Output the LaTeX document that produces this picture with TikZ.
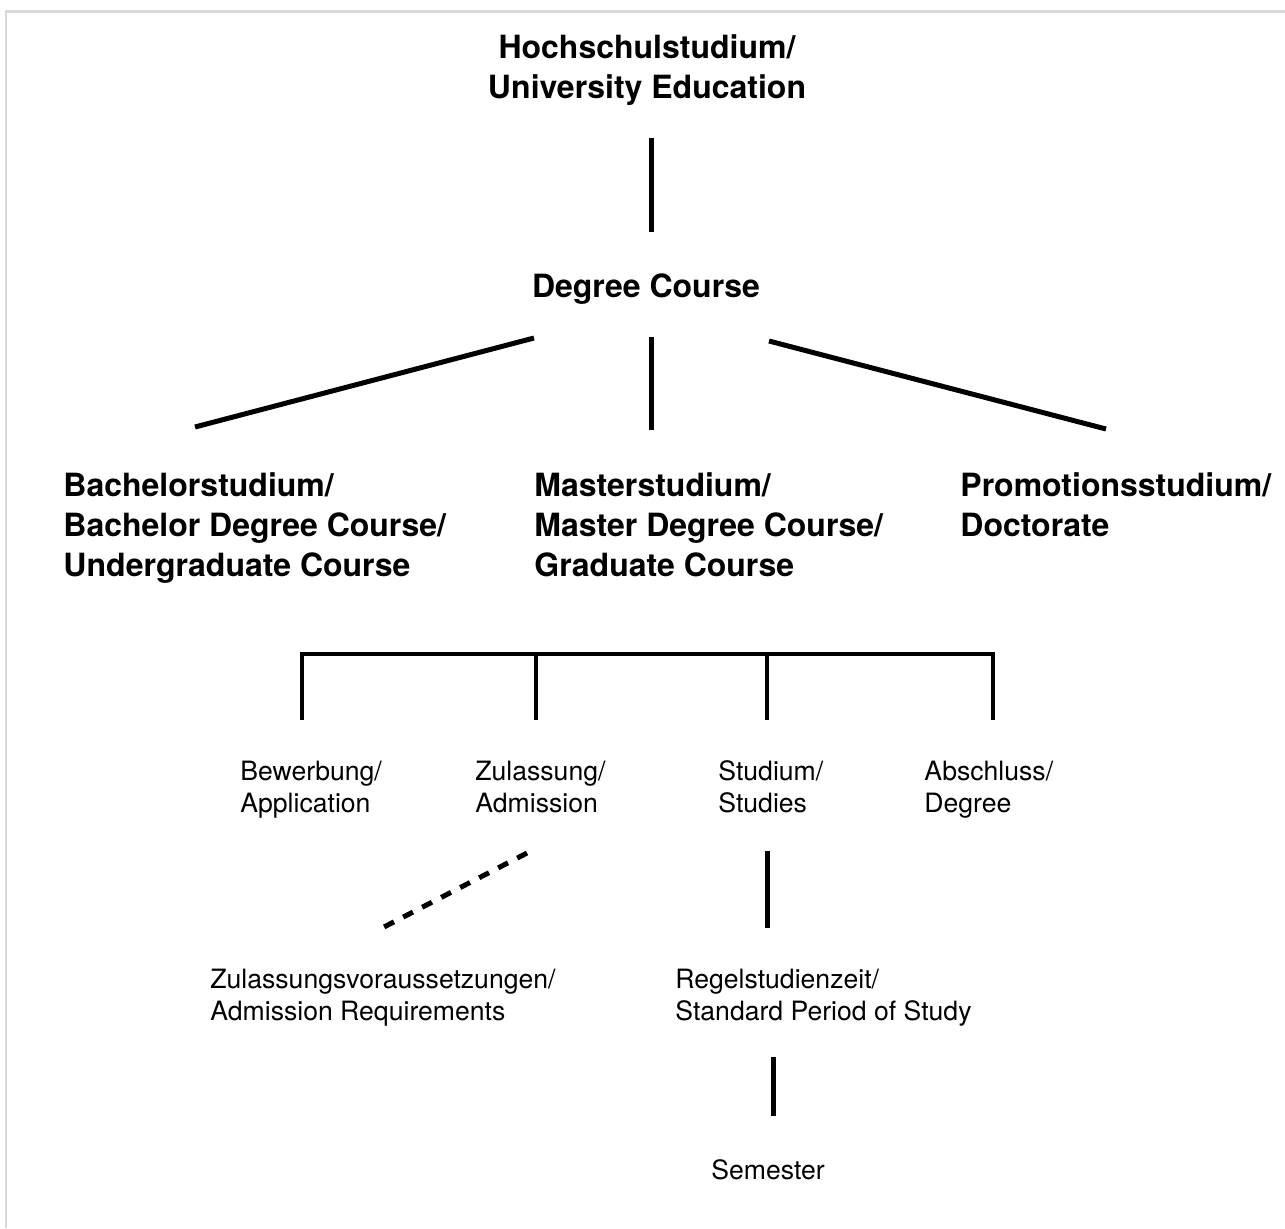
\documentclass[tikz,border=0pt]{standalone}
\usepackage{fontspec}
\setmainfont{TeX Gyre Heros}
\usetikzlibrary{calc}
\begin{document}
\begin{tikzpicture}[x=0.5pt,y=-0.5pt,
  head/.style={font=\fontsize{16}{20}\selectfont\bfseries, inner sep=0pt},
  leaf/.style={font=\fontsize{13.3}{16}\selectfont, inner sep=0pt, align=left, anchor=west},
  link/.style={line width=2.5pt, line cap=butt},
  bracket/.style={line width=2.2pt, line join=miter},
  dashlink/.style={line width=2.5pt, dash pattern=on 5.5pt off 5.2pt}]
\useasboundingbox (0,0) rectangle (1285,1228);
% frame edge
\draw[line width=1.25pt, color={rgb,255:red,216;green,216;blue,216}] (6,1228) -- (6,11.5) -- (1285,11.5);

% headings
\node[head, align=center] (uni) at (647,70) {Hochschulstudium/\\University Education};
\node[head] (dc) at (646,289) {Degree Course};
\node[head, align=left, anchor=west] (ba) at (63,528) {Bachelorstudium/\\Bachelor Degree Course/\\Undergraduate Course};
\node[head, align=left, anchor=west] (ma) at (534,525) {Masterstudium/\\Master Degree Course/\\Graduate Course};
\node[head, align=left, anchor=west] (pr) at (960,505) {Promotionsstudium/\\Doctorate};

% procedure steps
\node[leaf] (bew) at (240,790) {Bewerbung/\\Application};
\node[leaf] (zul) at (475,787) {Zulassung/\\Admission};
\node[leaf] (stu) at (718,787) {Studium/\\Studies};
\node[leaf] (abs) at (924,790) {Abschluss/\\Degree};
\node[leaf] (req) at (210,998) {Zulassungsvoraussetzungen/\\Admission Requirements};
\node[leaf] (reg) at (675,998) {Regelstudienzeit/\\Standard Period of Study};
\node[leaf, anchor=center] (sem) at (768,1170) {Semester};

% connector end points
\coordinate (uniB) at (651,138);
\coordinate (dcT) at (651,232);
\coordinate (dcL) at (534,338);
\coordinate (baT) at (195,427);
\coordinate (dcM) at (651,337);
\coordinate (maT) at (651,430);
\coordinate (dcR) at (769,341);
\coordinate (prT) at (1106,429);
\coordinate (brA) at (302,654);
\coordinate (brB) at (536,654);
\coordinate (brC) at (767,654);
\coordinate (brD) at (993,654);
\coordinate (bewT) at (302,720);
\coordinate (zulT) at (536,720);
\coordinate (stuT) at (767,720);
\coordinate (absT) at (993,720);
\coordinate (zulB) at (527,853);
\coordinate (reqT) at (384,927);
\coordinate (stuB) at (767,851);
\coordinate (regT) at (767,928);
\coordinate (regB) at (773,1057);
\coordinate (semT) at (773,1116);

% connectors
\draw[link] (uniB) -- (dcT);
\draw[link] (dcL) -- (baT);
\draw[link] (dcM) -- (maT);
\draw[link] (dcR) -- (prT);
\draw[bracket] (bewT) -- (brA) -- (brD) -- (absT);
\draw[bracket] (brB) -- (zulT);
\draw[bracket] (brC) -- (stuT);
\draw[dashlink] (zulB) -- (reqT);
\draw[link] (stuB) -- (regT);
\draw[link] (regB) -- (semT);
\end{tikzpicture}
\end{document}
